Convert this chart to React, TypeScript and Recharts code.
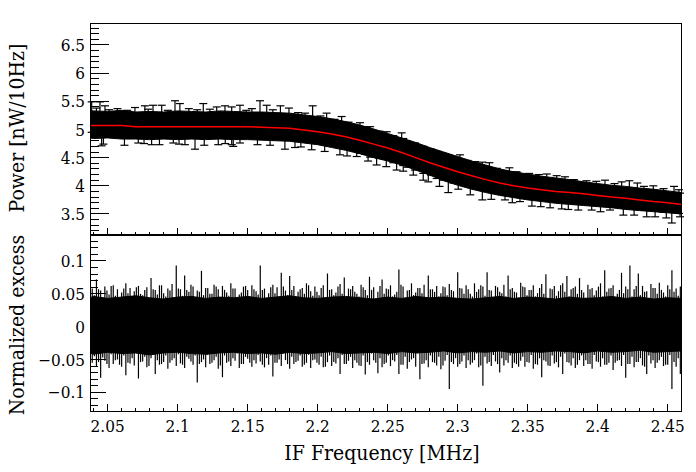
import { ComposedChart, Area, Line, Scatter, ErrorBar, XAxis, YAxis } from 'recharts'

// axis ranges and ticks
const freqDomain = [2.0374, 2.4602]
const powerDomain = [3.127, 6.89]
const excessDomain = [-0.13, 0.1396]

const freqTicks = [2.05, 2.1, 2.15, 2.2, 2.25, 2.3, 2.35, 2.4, 2.45]
const freqMinorTicks = [
  2.04, 2.05, 2.06, 2.07, 2.08, 2.09, 2.1, 2.11, 2.12, 2.13, 2.14, 2.15, 2.16, 2.17, 2.18,
  2.19, 2.2, 2.21, 2.22, 2.23, 2.24, 2.25, 2.26, 2.27, 2.28, 2.29, 2.3, 2.31, 2.32, 2.33,
  2.34, 2.35, 2.36, 2.37, 2.38, 2.39, 2.4, 2.41, 2.42, 2.43, 2.44, 2.45, 2.46,
]
const powerTicks = [3.5, 4, 4.5, 5, 5.5, 6, 6.5]
const powerMinorTicks = [
  3.2, 3.3, 3.4, 3.5, 3.6, 3.7, 3.8, 3.9, 4, 4.1, 4.2, 4.3, 4.4, 4.5, 4.6, 4.7, 4.8, 4.9,
  5, 5.1, 5.2, 5.3, 5.4, 5.5, 5.6, 5.7, 5.8, 5.9, 6, 6.1, 6.2, 6.3, 6.4, 6.5, 6.6, 6.7, 6.8,
]
const excessTicks = [-0.1, -0.05, 0, 0.05, 0.1]
const excessMinorTicks = [
  -0.12, -0.11, -0.1, -0.09, -0.08, -0.07, -0.06, -0.05, -0.04, -0.03, -0.02, -0.01, 0,
  0.01, 0.02, 0.03, 0.04, 0.05, 0.06, 0.07, 0.08, 0.09, 0.1, 0.11, 0.12, 0.13,
]

// spectrum: fit curve and the band covered by the points with their errors
const gridFreq = [
  2.0374, 2.04, 2.05, 2.06, 2.07, 2.08, 2.09, 2.1, 2.11, 2.12, 2.13, 2.14, 2.15, 2.16, 2.17,
  2.18, 2.19, 2.2, 2.21, 2.22, 2.23, 2.24, 2.25, 2.26, 2.27, 2.28, 2.29, 2.3, 2.31, 2.32,
  2.33, 2.34, 2.35, 2.36, 2.37, 2.38, 2.39, 2.4, 2.41, 2.42, 2.43, 2.44, 2.45, 2.46, 2.4602,
]
const fitPower = [
  5.07, 5.07, 5.07, 5.07, 5.05, 5.05, 5.05, 5.05, 5.05, 5.05, 5.05, 5.05, 5.05, 5.04, 5.03,
  5.02, 4.99, 4.96, 4.92, 4.87, 4.81, 4.74, 4.67, 4.59, 4.5, 4.41, 4.33, 4.25, 4.18, 4.11,
  4.05, 4.0, 3.96, 3.93, 3.9, 3.88, 3.86, 3.83, 3.8, 3.78, 3.75, 3.72, 3.7, 3.67, 3.67,
]
const bandHi = [
  5.34, 5.33, 5.32, 5.34, 5.31, 5.32, 5.31, 5.33, 5.32, 5.31, 5.33, 5.32, 5.31, 5.31, 5.3,
  5.29, 5.26, 5.23, 5.19, 5.14, 5.08, 5.01, 4.93, 4.85, 4.77, 4.68, 4.6, 4.52, 4.44, 4.37,
  4.3, 4.25, 4.21, 4.17, 4.14, 4.11, 4.07, 4.04, 4.01, 3.99, 3.96, 3.94, 3.91, 3.88, 3.88,
]
const bandLo = [
  4.85, 4.84, 4.85, 4.83, 4.83, 4.82, 4.83, 4.82, 4.83, 4.82, 4.83, 4.82, 4.82, 4.81, 4.8,
  4.79, 4.76, 4.73, 4.68, 4.63, 4.57, 4.5, 4.44, 4.37, 4.28, 4.19, 4.09, 4.01, 3.94, 3.88,
  3.83, 3.79, 3.75, 3.72, 3.69, 3.67, 3.65, 3.63, 3.61, 3.58, 3.56, 3.54, 3.52, 3.5, 3.49,
]

// points whose error bars stick out of the band: [freq, power, error]
const upperBars = [
  [2.0386, 5.22, 0.27], [2.0445, 5.22, 0.27], [2.0481, 5.15, 0.27], [2.0695, 5.12, 0.27],
  [2.0766, 5.15, 0.27], [2.0824, 5.16, 0.27], [2.0886, 5.16, 0.27], [2.0981, 5.24, 0.27],
  [2.1016, 5.19, 0.27], [2.1183, 5.19, 0.27], [2.1279, 5.13, 0.27], [2.1338, 5.15, 0.27],
  [2.1386, 5.13, 0.27], [2.1445, 5.16, 0.27], [2.1588, 5.24, 0.27], [2.1636, 5.16, 0.27],
  [2.1734, 5.15, 0.27], [2.1795, 5.11, 0.27], [2.1964, 5.15, 0.27], [2.2064, 5.02, 0.27],
  [2.2171, 4.96, 0.27], [2.2302, 4.85, 0.27], [2.2374, 4.78, 0.27], [2.2493, 4.72, 0.24],
  [2.26, 4.7, 0.24], [2.2611, 4.6, 0.24], [2.2695, 4.52, 0.24], [2.2754, 4.46, 0.24],
  [2.285, 4.37, 0.24], [2.3016, 4.31, 0.24], [2.3124, 4.19, 0.24], [2.3176, 4.18, 0.24],
  [2.3226, 4.17, 0.24], [2.3369, 4.08, 0.24], [2.3636, 4.0, 0.21], [2.3707, 3.97, 0.21],
  [2.3766, 3.95, 0.21], [2.4052, 3.89, 0.21], [2.4171, 3.86, 0.21], [2.4226, 3.88, 0.21],
  [2.4283, 3.84, 0.21], [2.4397, 3.79, 0.21], [2.4545, 3.78, 0.21],
]
const lowerBars = [
  [2.0457, 4.98, 0.27], [2.0719, 5.03, 0.27], [2.0814, 5.0, 0.27], [2.0969, 5.03, 0.27],
  [2.1052, 5.0, 0.27], [2.1124, 4.92, 0.27], [2.129, 5.0, 0.27], [2.1386, 5.0, 0.27],
  [2.1445, 5.03, 0.27], [2.1397, 4.97, 0.27], [2.1766, 4.92, 0.27], [2.1838, 4.95, 0.27],
  [2.1957, 4.91, 0.27], [2.2159, 4.82, 0.27], [2.2279, 4.79, 0.27], [2.2421, 4.64, 0.27],
  [2.2564, 4.52, 0.24], [2.2611, 4.5, 0.24], [2.2683, 4.43, 0.24], [2.2754, 4.34, 0.24],
  [2.2933, 4.12, 0.24], [2.3004, 4.18, 0.24], [2.3176, 3.99, 0.24], [2.3338, 3.99, 0.24],
  [2.3445, 3.96, 0.24], [2.3593, 3.84, 0.21], [2.3743, 3.8, 0.21], [2.3861, 3.78, 0.21],
  [2.3957, 3.78, 0.21], [2.4088, 3.78, 0.21], [2.4183, 3.69, 0.21], [2.435, 3.66, 0.21],
  [2.4529, 3.55, 0.21], [2.4588, 3.66, 0.21],
]
// ordinary points along the band edges: [freq, power, error]
const edgeBars = [
  [2.042, 5.14, 0.24], [2.051, 5.11, 0.24], [2.057, 5.13, 0.24], [2.064, 5.1, 0.24],
  [2.079, 5.12, 0.24], [2.093, 5.1, 0.24], [2.108, 5.13, 0.24], [2.114, 5.11, 0.24],
  [2.123, 5.12, 0.24], [2.149, 5.1, 0.24], [2.153, 5.13, 0.24], [2.168, 5.11, 0.24],
  [2.186, 5.06, 0.24], [2.191, 5.05, 0.24], [2.202, 5.0, 0.24], [2.212, 4.94, 0.24],
  [2.222, 4.89, 0.24], [2.234, 4.8, 0.24], [2.244, 4.73, 0.24], [2.254, 4.65, 0.24],
  [2.264, 4.56, 0.23], [2.281, 4.42, 0.23], [2.29, 4.33, 0.23], [2.297, 4.28, 0.23],
  [2.307, 4.22, 0.23], [2.328, 4.09, 0.22], [2.342, 4.03, 0.22], [2.351, 4.0, 0.22],
  [2.358, 3.98, 0.22], [2.383, 3.9, 0.21], [2.392, 3.88, 0.21], [2.399, 3.87, 0.21],
  [2.412, 3.83, 0.21], [2.433, 3.78, 0.21], [2.447, 3.74, 0.21], [2.458, 3.72, 0.21],
  [2.047, 4.98, 0.24], [2.062, 4.96, 0.24], [2.076, 4.99, 0.24], [2.087, 4.97, 0.24],
  [2.101, 4.98, 0.24], [2.119, 4.96, 0.24], [2.134, 4.99, 0.24], [2.157, 4.97, 0.24],
  [2.166, 4.96, 0.24], [2.188, 4.93, 0.24], [2.205, 4.85, 0.24], [2.221, 4.77, 0.24],
  [2.236, 4.68, 0.24], [2.249, 4.58, 0.24], [2.279, 4.3, 0.23], [2.287, 4.22, 0.23],
  [2.309, 4.07, 0.23], [2.324, 3.98, 0.22], [2.339, 3.92, 0.22], [2.353, 3.86, 0.22],
  [2.366, 3.82, 0.21], [2.379, 3.79, 0.21], [2.402, 3.75, 0.21], [2.426, 3.69, 0.21],
  [2.441, 3.66, 0.21], [2.449, 3.64, 0.21],
]

// residuals: dense core and the per-bin extremes (x1e-3)
const coreHi = [
  0.044, 0.046, 0.043, 0.045, 0.047, 0.044, 0.042, 0.045, 0.046, 0.043, 0.045, 0.044, 0.046,
  0.043, 0.045, 0.047, 0.044, 0.043, 0.045, 0.046, 0.044, 0.042, 0.045, 0.043, 0.046, 0.044,
  0.045, 0.043, 0.042, 0.044, 0.046, 0.043, 0.045, 0.044, 0.042, 0.045, 0.043, 0.044, 0.046,
  0.043, 0.045, 0.042, 0.044, 0.043, 0.044,
]
const coreLo = [
  -0.04, -0.042, -0.039, -0.041, -0.04, -0.043, -0.04, -0.039, -0.041, -0.042, -0.04, -0.039,
  -0.041, -0.04, -0.042, -0.039, -0.041, -0.04, -0.038, -0.041, -0.04, -0.039, -0.041, -0.038,
  -0.04, -0.039, -0.037, -0.04, -0.038, -0.039, -0.037, -0.04, -0.038, -0.039, -0.037, -0.038,
  -0.04, -0.037, -0.039, -0.038, -0.036, -0.039, -0.038, -0.037, -0.038,
]
const EXCESS_FIRST_BIN = 2.039
const EXCESS_BIN = 0.003
const excessUp = [
  58, 72, 55, 61, 49, 63, 57, 52, 66, 59, 54, 62, 48, 60, 74, 56, 63, 51, 58, 65,
  93, 57, 78, 53, 61, 55, 85, 59, 50, 64, 57, 62, 52, 66, 58, 49, 61, 56, 63, 54,
  93, 58, 51, 64, 60, 82, 55, 77, 62, 53, 59, 66, 54, 61, 48, 63, 81, 57, 52, 65,
  75, 58, 62, 50, 64, 56, 76, 60, 53, 72, 58, 63, 49, 87, 61, 55, 66, 52, 59, 64,
  78, 57, 62, 51, 60, 65, 54, 83, 58, 63, 50, 66, 57, 61, 83, 55, 62, 53, 64, 78,
  59, 52, 67, 60, 56, 63, 51, 65, 80, 58, 62, 54, 66, 77, 57, 61, 74, 52, 64, 59,
  55, 66, 86, 58, 63, 50, 82, 61, 93, 57, 81, 62, 54, 65, 59, 67, 52, 63, 86, 58,
  61,
]
const excessDown = [
  55, 60, 78, 52, 63, 57, 50, 61, 74, 56, 59, 79, 53, 62, 48, 72, 58, 54, 64, 51,
  60, 56, 63, 49, 58, 85, 54, 62, 57, 51, 64, 77, 55, 60, 52, 63, 57, 49, 61, 56,
  53, 62, 58, 76, 55, 60, 51, 64, 57, 52, 61, 55, 63, 50, 58, 62, 54, 60, 56, 72,
  57, 52, 63, 55, 60, 73, 58, 51, 71, 62, 55, 60, 53, 72, 58, 64, 50, 61, 80, 56,
  62, 54, 59, 65, 52, 95, 57, 61, 53, 63, 58, 51, 62, 90, 56, 60, 53, 70, 59, 55,
  63, 57, 52, 61, 55, 64, 58, 77, 53, 60, 56, 62, 72, 54, 59, 63, 51, 60, 57, 64,
  53, 61, 58, 55, 66, 52, 60, 78, 57, 62, 54, 59, 72, 56, 63, 51, 60, 58, 95, 61,
  72,
]
// the bins in between (shifted by half a bin), x1e-3
const excessUpMid = [
  48, 57, 45, 55, 62, 47, 44, 58, 51, 46, 60, 50, 56, 43, 57, 49, 63, 46, 55, 44,
  58, 47, 56, 64, 45, 53, 48, 59, 50, 61, 44, 56, 47, 58, 43, 52, 62, 46, 57, 49,
  56, 44, 60, 51, 46, 61, 48, 56, 45, 57, 50, 63, 47, 53, 59, 43, 56, 48, 61, 50,
  45, 57, 53, 46, 60, 48, 56, 43, 62, 50, 57, 46, 53, 64, 44, 56, 48, 59, 51, 43,
  57, 53, 46, 61, 48, 56, 44, 59, 50, 57, 46, 53, 63, 47, 56, 43, 60, 51, 46, 57,
  53, 44, 61, 48, 56, 46, 59, 50, 43, 57, 47, 63, 53, 46, 59, 50, 56, 44, 57, 48,
  61, 46, 53, 59, 43, 56, 51, 57, 46, 62, 48, 53, 44, 59, 50, 56, 46, 57, 53, 47,
]
const excessDownMid = [
  45, 54, 47, 57, 42, 51, 58, 44, 55, 48, 41, 54, 46, 60, 43, 51, 57, 44, 55, 48,
  42, 58, 46, 53, 44, 57, 50, 43, 55, 46, 59, 44, 53, 48, 41, 57, 46, 55, 51, 43,
  58, 48, 44, 55, 50, 41, 57, 46, 54, 44, 58, 43, 51, 55, 46, 61, 44, 54, 48, 43,
  57, 46, 51, 59, 44, 54, 41, 55, 48, 57, 44, 51, 43, 58, 46, 54, 48, 41, 57, 51,
  44, 55, 46, 59, 43, 54, 48, 57, 44, 51, 55, 41, 59, 46, 54, 43, 57, 48, 51, 44,
  55, 61, 46, 54, 43, 57, 48, 51, 59, 44, 54, 46, 41, 55, 48, 58, 44, 51, 57, 43,
  54, 48, 58, 44, 55, 51, 43, 57, 46, 54, 48, 61, 44, 51, 55, 46, 58, 43, 54, 48,
]

const band = gridFreq.map((f, i) => ({ f, fit: fitPower[i], range: [bandLo[i], bandHi[i]] }))
const core = gridFreq.map((f, i) => ({ f, range: [coreLo[i], coreHi[i]] }))
const bars = [...upperBars, ...lowerBars, ...edgeBars].map(([f, v, e]) => ({ f, v, err: e }))
const excessBins = [
  ...excessUp.map((u, i) => ({
    f: EXCESS_FIRST_BIN + i * EXCESS_BIN,
    v: 0,
    err: [excessDown[i] / 1000, u / 1000],
  })),
  ...excessUpMid.map((u, i) => ({
    f: EXCESS_FIRST_BIN + (i + 0.5) * EXCESS_BIN,
    v: 0,
    err: [excessDownMid[i] / 1000, u / 1000],
  })),
]

const serif = '"DejaVu Serif Condensed", "DejaVu Serif", serif'

function isMajor(v: number, majors: number[]) {
  return majors.some((m) => Math.abs(m - v) < 1e-6)
}

function fmt(v: number) {
  const s = String(Math.abs(v))
  return v < 0 ? '\u2212' + s : s
}

const tickStyle = { fontFamily: serif, fontStretch: 'condensed' }

function leftTick(majors: number[], majorLen: number, minorLen: number) {
  return (props: any) => {
    const { x, y, payload } = props
    const major = isMajor(payload.value, majors)
    return (
      <g>
        <line x1={x} y1={y} x2={x + (major ? majorLen : minorLen)} y2={y} stroke="#000" shapeRendering="crispEdges" />
        {major && (
          <text x={x - 5} y={y} dy="0.36em" textAnchor="end" fontSize={17} style={tickStyle} fill="#000">
            {fmt(payload.value)}
          </text>
        )}
      </g>
    )
  }
}

function bottomTick(majors: number[], majorLen: number, minorLen: number, labels: boolean) {
  return (props: any) => {
    const { x, y, payload } = props
    const major = isMajor(payload.value, majors)
    return (
      <g>
        <line x1={x} y1={y} x2={x} y2={y - (major ? majorLen : minorLen)} stroke="#000" shapeRendering="crispEdges" />
        {labels && major && (
          <text x={x} y={y + 20} textAnchor="middle" fontSize={17} style={tickStyle} fill="#000">
            {fmt(payload.value)}
          </text>
        )}
      </g>
    )
  }
}

const noMarker = () => <g />

const frame = (top: number, height: number) => ({
  position: 'absolute' as const,
  left: 90,
  top,
  width: 592,
  height,
  border: '1px solid #000',
  boxSizing: 'border-box' as const,
  pointerEvents: 'none' as const,
})

const titleText = {
  fontFamily: serif,
  fontStretch: 'condensed',
  fontSize: 21,
  whiteSpace: 'nowrap' as const,
}

const yTitle = (cy: number) => ({
  ...titleText,
  position: 'absolute' as const,
  left: 17 - 110,
  top: cy - 12,
  width: 220,
  height: 24,
  lineHeight: '24px',
  textAlign: 'center' as const,
  transform: 'rotate(-90deg)',
})

export default function App() {
  return (
    <div style={{ position: 'absolute', left: 0, top: 0, width: 696, height: 472, background: '#fff' }}>
      <div style={{ position: 'absolute', left: 0, top: 0 }}>
        <ComposedChart width={696} height={472} margin={{ top: 23, right: 14, bottom: 236, left: 89 }}>
          <XAxis
            type="number" dataKey="f" domain={freqDomain} ticks={freqMinorTicks} interval={0}
            allowDataOverflow height={1} axisLine={false} tickLine={false} tickSize={0} tickMargin={0}
            tick={bottomTick(freqTicks, 7, 3.5, false)}
          />
          <YAxis
            type="number" domain={powerDomain} ticks={powerMinorTicks} interval={0}
            allowDataOverflow width={1} axisLine={false} tickLine={false} tickSize={0} tickMargin={0}
            tick={leftTick(powerTicks, 19, 9)}
          />
          <Area data={band} dataKey="range" type="linear" stroke="#000" strokeWidth={1} fill="#000" fillOpacity={1} isAnimationActive={false} />
          <Scatter data={bars} dataKey="v" shape={noMarker} isAnimationActive={false}>
            <ErrorBar dataKey="err" direction="y" width={4} stroke="#000" strokeWidth={1.2} />
          </Scatter>
          <Line data={band} dataKey="fit" type="linear" stroke="#ff0000" strokeWidth={1.5} dot={false} isAnimationActive={false} />
        </ComposedChart>
      </div>
      <div style={{ position: 'absolute', left: 0, top: 0 }}>
        <ComposedChart width={696} height={472} margin={{ top: 235, right: 14, bottom: 59, left: 89 }}>
          <XAxis
            type="number" dataKey="f" domain={freqDomain} ticks={freqMinorTicks} interval={0}
            allowDataOverflow height={1} axisLine={false} tickLine={false} tickSize={0} tickMargin={0}
            tick={bottomTick(freqTicks, 8, 4, true)}
          />
          <YAxis
            type="number" domain={excessDomain} ticks={excessMinorTicks} interval={0}
            allowDataOverflow width={1} axisLine={false} tickLine={false} tickSize={0} tickMargin={0}
            tick={leftTick(excessTicks, 16, 8)}
          />
          <Area data={core} dataKey="range" type="linear" stroke="#000" strokeWidth={1} fill="#000" fillOpacity={1} isAnimationActive={false} />
          <Scatter data={excessBins} dataKey="v" shape={noMarker} isAnimationActive={false}>
            <ErrorBar dataKey="err" direction="y" width={0} stroke="#000" strokeWidth={1.2} />
          </Scatter>
        </ComposedChart>
      </div>
      <div style={frame(23, 212)} />
      <div style={frame(235, 177)} />
      <div style={yTitle(128)}>Power [nW/10Hz]</div>
      <div style={yTitle(325)}>Normalized excess</div>
      <div
        style={{
          ...titleText,
          position: 'absolute', left: 232, top: 441, width: 300, height: 24, lineHeight: '24px',
          textAlign: 'center',
        }}
      >
        IF Frequency [MHz]
      </div>
    </div>
  )
}
